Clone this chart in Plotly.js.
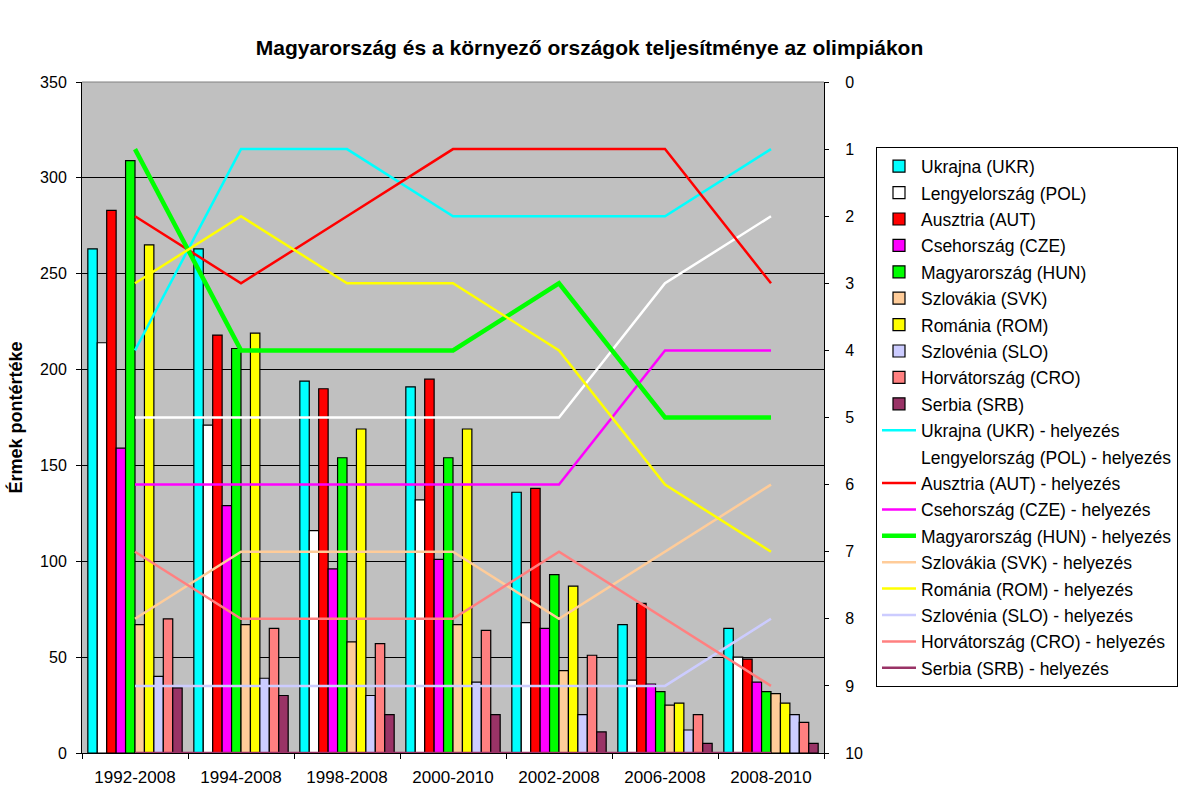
<!DOCTYPE html>
<html>
<head>
<meta charset="utf-8">
<script src="https://cdn.plot.ly/plotly-3.0.1.min.js"></script>
<style>html,body{margin:0;padding:0;background:#fff;}#chart{width:1179px;height:789px;}</style>
</head>
<body>
<div id="chart"></div>
<script>
const periods = ["1992-2008","1994-2008","1998-2008","2000-2010","2002-2008","2006-2008","2008-2010"];
const countries = ["Ukrajna (UKR)","Lengyelország (POL)","Ausztria (AUT)","Csehország (CZE)","Magyarország (HUN)","Szlovákia (SVK)","Románia (ROM)","Szlovénia (SLO)","Horvátország (CRO)","Serbia (SRB)"];
const colors = ["#00FFFF","#FFFFFF","#FF0000","#FF00FF","#00FF00","#FFCC99","#FFFF00","#CCCCFF","#FF8080","#993366"];

// medal point values (left axis)
const pointsUKR = [263,263,194,191,136,67,65];
const pointsPOL = [214,171,116,132,68,38,50];
const pointsAUT = [283,218,190,195,138,78,49];
const pointsCZE = [159,129,96,101,65,36,37];
const pointsHUN = [309,211,154,154,93,32,32];
const pointsSVK = [67,67,58,67,43,25,31];
const pointsROM = [265,219,169,169,87,26,26];
const pointsSLO = [40,39,30,37,20,12,20];
const pointsCRO = [70,65,57,64,51,20,16];
const pointsSRB = [34,30,20,20,11,5,5];

// rankings (right axis)
const rankUKR = [4,1,1,2,2,2,1];
const rankPOL = [5,5,5,5,5,3,2];
const rankAUT = [2,3,2,1,1,1,3];
const rankCZE = [6,6,6,6,6,4,4];
const rankHUN = [1,4,4,4,3,5,5];
const rankSVK = [8,7,7,7,8,7,6];
const rankROM = [3,2,3,3,4,6,7];
const rankSLO = [9,9,9,9,9,9,8];
const rankCRO = [7,8,8,8,7,8,9];
const rankSRB = [10,10,10,10,10,10,10];

const pointsAll = [pointsUKR,pointsPOL,pointsAUT,pointsCZE,pointsHUN,pointsSVK,pointsROM,pointsSLO,pointsCRO,pointsSRB];
const ranksAll = [rankUKR,rankPOL,rankAUT,rankCZE,rankHUN,rankSVK,rankROM,rankSLO,rankCRO,rankSRB];

const lbl = s => '<span style="font-size:17.5px">' + s + '</span>';

const traces = [];
countries.forEach((c,i)=>{
  traces.push({
    type:'bar', name:lbl(c), x:periods, y:pointsAll[i], yaxis:'y',
    marker:{color:colors[i], line:{color:'#000000', width:1.2}},
    hoverinfo:'y'
  });
});
countries.forEach((c,i)=>{
  traces.push({
    type:'scatter', mode:'lines', name:lbl(c + ' - helyezés'), x:periods, y:ranksAll[i], yaxis:'y2',
    line:{color:colors[i], width: i===4 ? 4.5 : 2.5},
    hoverinfo:'y'
  });
});

const layout = {
  width:1179, height:789,
  margin:{l:82, r:355, t:82, b:36, autoexpand:false},
  paper_bgcolor:'#FFFFFF',
  plot_bgcolor:'#C0C0C0',
  font:{family:'Liberation Sans, Arial, sans-serif', size:16, color:'#000'},
  title:{text:'<b>Magyarország és a környező országok teljesítménye az olimpiákon</b>', font:{size:21, family:'Liberation Sans, Arial, sans-serif'}, x:0.5, xanchor:'center', y:0.94, yanchor:'middle'},
  barmode:'group', bargap:0.11, bargroupgap:0,
  showlegend:true,
  legend:{xref:'container', yref:'container', x:0.743, xanchor:'left', y:0.8137, yanchor:'top', maxheight:620, bgcolor:'#FFFFFF', bordercolor:'#000000', borderwidth:1, font:{size:18}, tracegroupgap:0, traceorder:'normal', itemwidth:34},
  xaxis:{type:'category', showgrid:false, showline:true, linecolor:'#000', linewidth:1, ticks:'outside', tickson:'boundaries', ticklen:5, tickcolor:'#000', tickfont:{size:17}, ticklabelstandoff:9, zeroline:false, automargin:false},
  yaxis:{range:[0,350], dtick:50, tick0:0, showgrid:true, gridcolor:'#000000', gridwidth:1, showline:true, linecolor:'#000', ticks:'outside', ticklen:5, tickcolor:'#000', tickfont:{size:16}, ticklabelstandoff:6, zeroline:false, automargin:false,
    title:{text:'<b>Érmek pontértéke</b>', font:{size:18}, standoff:12}},
  yaxis2:{overlaying:'y', side:'right', range:[10,0], dtick:1, tick0:0, showgrid:false, showline:true, linecolor:'#000', ticks:'outside', ticklen:4, tickcolor:'#000', tickfont:{size:16}, ticklabelstandoff:13, zeroline:false, automargin:false},
  shapes:[{type:'line', xref:'paper', yref:'paper', x0:0, x1:1, y0:1, y1:1, line:{color:'#808080', width:1}}]
};

Plotly.newPlot('chart', traces, layout, {displayModeBar:false, staticPlot:true});
</script>
</body>
</html>
